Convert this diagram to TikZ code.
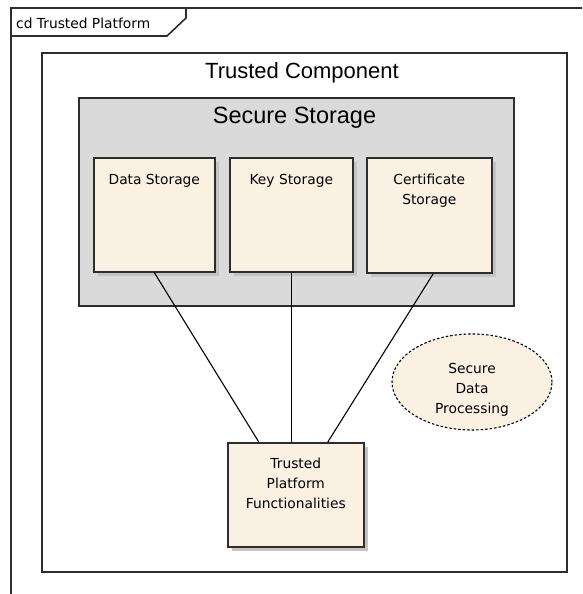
\documentclass[tikz,border=0pt]{standalone}
\usepackage{fontspec}
\setmainfont{Liberation Sans}
\newfontfamily\uifont{DejaVu Sans}
\usetikzlibrary{shapes.geometric,calc}
\definecolor{cream}{RGB}{251,241,226}
\definecolor{panelgray}{RGB}{218,218,218}
\definecolor{shadowgray}{RGB}{196,196,196}
\definecolor{edge}{RGB}{45,45,45}
\tikzset{
  x=1pt, y=-1pt,
  framepen/.style={draw=edge, line width=1.6pt},
  classbox/.style={rectangle, draw=edge, fill=cream, line width=1.6pt,
    anchor=north west, inner sep=0pt},
  boxshadow/.style={fill=shadowgray, draw=none},
  titletext/.style={font=\fontsize{22}{26}\selectfont, inner sep=0pt},
  smalltext/.style={font=\uifont\fontsize{13.8}{19.8}\selectfont, align=center, inner sep=0pt},
  link/.style={draw=black, line width=1.1pt},
}
\begin{document}
\begin{tikzpicture}
\useasboundingbox (0,0) rectangle (582,594);
\fill[white] (0,0) rectangle (582,594);

% diagram frame with its name tab
\draw[framepen] (582,8) -- (11,8) -- (11,594);
\draw[framepen] (11,36) -- (167,36) -- (186,18) -- (186,8);
\node[smalltext, anchor=west] (framename) at (16,23) {cd Trusted Platform};

% outer component
\node[rectangle, draw=edge, line width=1.6pt, anchor=north west, inner sep=0pt,
      minimum width=525, minimum height=519] (tc) at (41,52) {};
\node[titletext] (tctitle) at (302,73) {Trusted Component};

% secure storage panel
\node[rectangle, draw=edge, fill=panelgray, line width=1.6pt, anchor=north west,
      inner sep=0pt, minimum width=435, minimum height=208] (ss) at (78,97) {};
\node[titletext, font=\fontsize{23.5}{27}\selectfont] (sstitle) at (294.5,118) {Secure Storage};

% storage parts with drop shadows
\fill[boxshadow] (98,162) rectangle (219,276);
\fill[boxshadow] (234,162) rectangle (357,276);
\fill[boxshadow] (371,162) rectangle (496,277);
\node[classbox, minimum width=121, minimum height=114] (ds) at (93,157) {};
\node[classbox, minimum width=123, minimum height=114] (ks) at (229,157) {};
\node[classbox, minimum width=125, minimum height=115] (cs) at (366,157) {};
\node[smalltext, anchor=north] (dstext) at ($(ds.north)+(0,17)$) {Data Storage};
\node[smalltext, anchor=north] (kstext) at ($(ks.north)+(0,17)$) {Key Storage};
\node[smalltext, anchor=north] (cstext) at ($(cs.north)+(0,17)$) {Certificate\\Storage};

% platform functionalities part
\fill[boxshadow] (232,447) rectangle (368,551);
\node[classbox, minimum width=136, minimum height=104] (tpf) at (227,442) {};
\node[smalltext, anchor=north] (tpftext) at ($(tpf.north)+(0,16)$) {Trusted\\Platform\\Functionalities};

% secure data processing
\node[ellipse, draw=black, dashed, dash pattern=on 2.5pt off 2pt, line width=1.1pt,
      fill=cream, minimum width=160, minimum height=96, inner sep=0pt] (sdp) at (472,382) {};
\node[smalltext] (sdptext) at (472,390) {Secure\\Data\\Processing};

% connectors
\draw[link] (ds.south) -- ($(tpf.north)+(-37,0)$);
\draw[link] (ks.south) -- (ks.south |- tpf.north);
\draw[link] ($(cs.south)+(4,0)$) -- ($(tpf.north)+(32,0)$);
\end{tikzpicture}
\end{document}
